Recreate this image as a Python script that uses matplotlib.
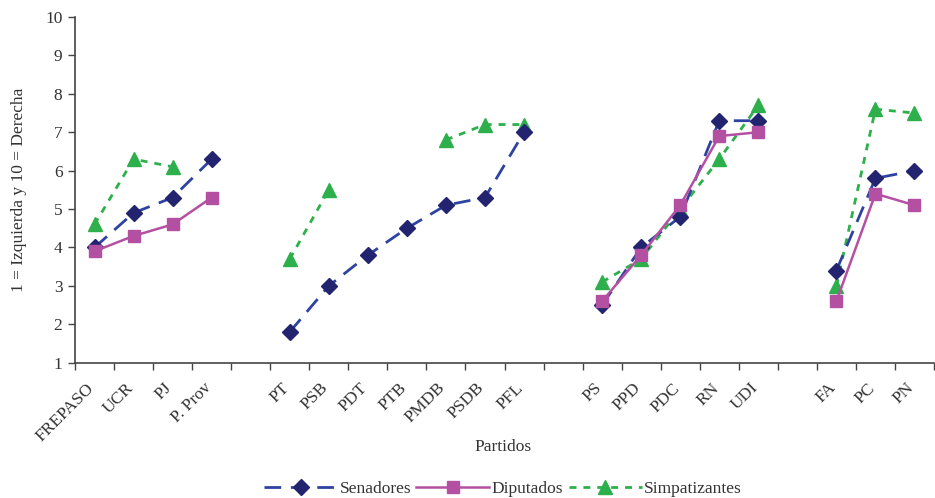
import numpy as np
import matplotlib
matplotlib.use("Agg")
import matplotlib.pyplot as plt

nan = np.nan
categories = ["FREPASO", "UCR", "PJ", "P. Prov", "",
              "PT", "PSB", "PDT", "PTB", "PMDB", "PSDB", "PFL", "",
              "PS", "PPD", "PDC", "RN", "UDI", "",
              "FA", "PC", "PN"]
senadores = [4.0, 4.9, 5.3, 6.3, nan,
             1.8, 3.0, 3.8, 4.5, 5.1, 5.3, 7.0, nan,
             2.5, 4.0, 4.8, 7.3, 7.3, nan,
             3.4, 5.8, 6.0]
diputados = [3.9, 4.3, 4.6, 5.3, nan,
             nan, nan, nan, nan, nan, nan, nan, nan,
             2.6, 3.8, 5.1, 6.9, 7.0, nan,
             2.6, 5.4, 5.1]
simpatizantes = [4.6, 6.3, 6.1, nan, nan,
                 3.7, 5.5, nan, nan, 6.8, 7.2, 7.2, nan,
                 3.1, 3.7, 5.0, 6.3, 7.7, nan,
                 3.0, 7.6, 7.5]
yticks = list(range(1, 11))

plt.rcParams['font.family'] = ['Liberation Serif', 'DejaVu Serif']

fig = plt.figure(figsize=(9.35, 4.98), dpi=100)
ax = fig.add_axes([75/935, 1-362.7/498, (934-75)/935, (362.7-17)/498])

x = np.arange(len(categories))
c_sen_line = "#2E43A0"
c_sen_mark = "#232470"
c_dip = "#B450A2"
c_sim = "#2DB04B"

ax.plot(x, senadores, color=c_sen_line, lw=2, dashes=(6, 3.5), marker='D',
        ms=8, mfc=c_sen_mark, mec=c_sen_mark, zorder=3, label="Senadores")
ax.plot(x, diputados, color=c_dip, lw=1.8, marker='s', ms=8.5,
        mfc=c_dip, mec=c_dip, zorder=4, label="Diputados")
ax.plot(x, simpatizantes, color=c_sim, lw=2, dashes=(2.5, 2.5), marker='^',
        ms=9.5, mfc=c_sim, mec=c_sim, zorder=2, label="Simpatizantes")

ax.set_xlim(-0.5, len(categories) - 0.5)
ax.set_ylim(1, 10)
ax.set_yticks(yticks)
ax.set_yticklabels([str(v) for v in yticks], fontsize=12.5, color="#333333")
ax.set_xticks(np.arange(len(categories) + 1) - 0.5)
ax.set_xticklabels([])
ax.tick_params(axis='x', length=5, width=1, color="#444444", direction='out')
ax.tick_params(axis='y', length=5, width=1, color="#444444", direction='out', pad=4)

for i, c in enumerate(categories):
    if c:
        ax.text(i - 0.22, -0.05, c, transform=ax.get_xaxis_transform(),
                rotation=45, ha='right', va='top', rotation_mode='anchor',
                fontsize=12.5, color="#333333")

for s in ['top', 'right']:
    ax.spines[s].set_visible(False)
for s in ['left', 'bottom']:
    ax.spines[s].set_color("#444444")
    ax.spines[s].set_linewidth(1.2)

ax.set_ylabel("1 = Izquierda y 10 = Derecha", fontsize=12.5, color="#333333", labelpad=13)
fig.text(503/935, 1-447/498, "Partidos", ha='center', va='center', fontsize=12.5, color="#333333")

leg = fig.legend(loc='center', bbox_to_anchor=(503/935, 1-489/498), ncol=3,
                 frameon=False, fontsize=12.5, handlelength=4.2, columnspacing=0.3,
                 handletextpad=0.15)
for t in leg.get_texts():
    t.set_color("#333333")

fig.savefig("out.png", dpi=100)
